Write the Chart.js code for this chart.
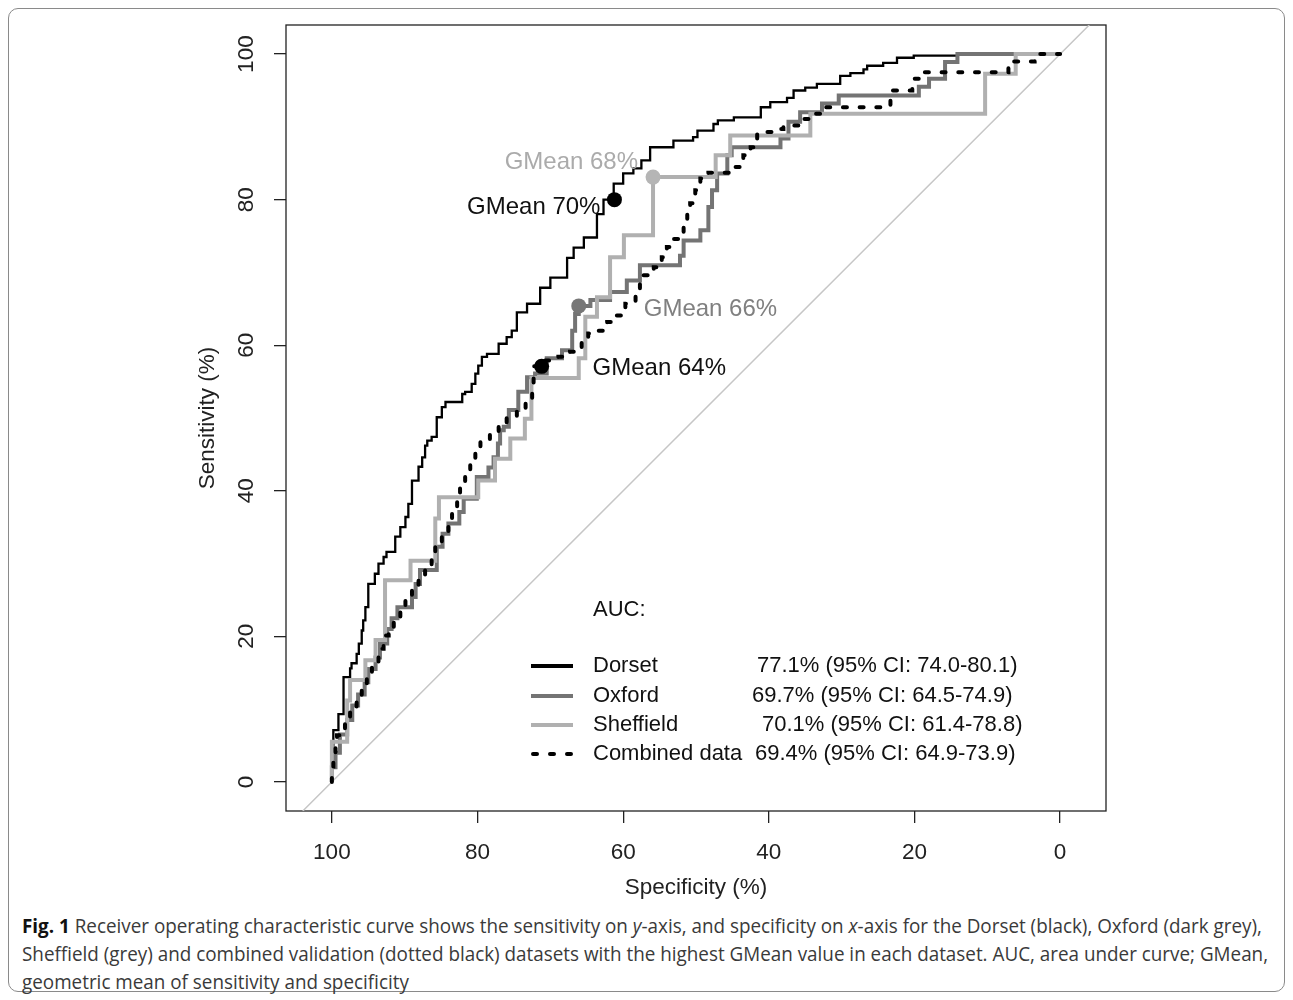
<!DOCTYPE html>
<html><head><meta charset="utf-8">
<script src="https://cdn.jsdelivr.net/npm/chart.js@4.4.1/dist/chart.umd.min.js"></script>
<style>
html,body{margin:0;padding:0;background:#fff;}
#wrap{position:relative;width:1293px;height:1000px;overflow:hidden;background:#fff;}
#frame{position:absolute;left:8px;top:8px;width:1275px;height:982px;border:1.5px solid #8a8a8a;border-radius:10px;}
#c{position:absolute;left:0;top:0;}
#cap{position:absolute;left:22px;top:912px;font-family:"Open Sans","DejaVu Sans Condensed",sans-serif;font-size:20px;line-height:28px;color:#3a3a3a;}
#cap .ln{display:block;height:28px;}
#cap .ln span{display:inline-block;white-space:nowrap;transform-origin:0 50%;}
#cap b{color:#111;font-weight:700;}
</style></head><body>
<div id="wrap"><div id="frame"></div><canvas id="c" width="1293" height="910"></canvas>
<div id="cap">
<div class="ln"><span id="l1"><b>Fig. 1</b> Receiver operating characteristic curve shows the sensitivity on <i>y</i>-axis, and specificity on <i>x</i>-axis for the Dorset (black), Oxford (dark grey),</span></div>
<div class="ln"><span>Sheffield (grey) and combined validation (dotted black) datasets with the highest GMean value in each dataset. AUC, area under curve; GMean,</span></div>
<div class="ln"><span>geometric mean of sensitivity and specificity</span></div>
</div></div>
<script>
// ---------- data ----------
const tickValues = [0, 20, 40, 60, 80, 100];

const dorsetSpec = [100,99.8,99.1,98.4,97.5,97.3,96.6,96.3,95.9,95.7,95.4,95.0,94.1,93.6,92.9,92.5,91.3,90.6,89.9,89.5,89.0,88.1,87.6,87.2,86.9,86.3,85.6,84.9,84.4,83.7,82.1,81.7,80.8,80.3,79.9,79.4,78.7,77.1,76.0,75.3,74.6,73.2,71.4,70.0,67.7,66.8,65.4,63.6,62.7,61.3,60.0,58.6,57.5,56.3,54.9,53.1,50.4,49.8,47.6,47.0,44.8,41.1,39.8,37.5,36.6,35.0,33.4,30.2,28.8,27.0,26.5,24.3,22.4,20.1,14.1,13.5,0];
const dorsetSens = [0,3.0,7.1,9.3,14.4,15.6,16.3,17.6,19.0,20.8,22.2,24.0,27.2,28.6,30.0,30.9,31.6,33.7,35.0,36.4,38.2,41.4,43.3,44.6,46.2,46.9,47.4,50.1,51.5,52.2,52.2,53.3,53.6,54.7,56.1,57.2,58.4,58.8,60.2,61.1,62.0,64.5,65.7,67.9,69.3,72.0,73.4,74.8,78.0,80.0,82.2,83.6,84.3,85.4,87.2,87.2,88.1,88.6,89.5,90.4,90.9,91.3,92.7,93.4,94.0,95.0,95.4,95.9,97.0,97.4,97.9,98.4,98.8,99.5,99.8,100,100];

const oxfordSpec = [100,99.5,98.9,97.9,97.2,96.4,95.5,95.0,94.0,93.4,92.4,91.8,91.0,89.0,88.5,87.9,85.6,84.8,84.0,82.5,81.9,80.1,78.5,77.8,77.2,76.9,76.4,75.7,74.4,73.2,72.1,70.5,68.4,67.0,66.6,66.1,64.5,61.8,59.5,57.7,52.2,51.7,49.4,48.3,47.8,47.1,45.7,45.1,38.4,37.3,35.7,32.7,30.4,19.4,18.0,15.8,14.1,0];
const oxfordSens = [0,2.0,4.0,6.5,8.5,10.5,12.0,13.7,15.5,17.1,19.0,21.0,22.5,24.0,25.4,27.2,29.1,32.3,34.1,35.5,37.1,38.9,41.9,43.2,44.6,46.5,48.3,48.8,51.1,53.6,55.6,56.1,58.2,59.3,62.0,64.3,65.4,66.2,67.3,68.9,71.0,72.3,74.4,75.8,79.0,81.3,83.6,86.1,87.2,88.4,90.7,92.0,93.2,94.3,95.5,96.6,98.9,100];

const sheffieldSpec = [100,97.9,97.5,95.4,94.0,92.7,89.2,85.8,85.3,79.9,77.6,75.5,73.5,72.6,66.1,65.2,63.6,61.8,59.9,55.9,47.3,45.3,34.3,10.3,6.1,0];
const sheffieldSens = [0,5.5,11.2,14.0,16.7,19.5,27.7,30.4,36.2,39.1,41.4,44.4,47.2,49.9,55.5,58.2,63.9,66.6,72.1,75.1,83.1,86.1,88.8,91.8,97.3,100];

const combinedSpec = [100,99.8,99.5,99.3,98.9,98.2,97.5,96.6,95.9,95.2,94.5,93.6,92.9,92.2,91.5,90.6,89.9,89.0,88.1,87.2,86.3,85.8,84.9,84.0,83.5,82.8,82.4,81.7,81.0,80.3,79.6,78.3,77.1,76.0,74.6,73.4,72.5,72.3,71.2,70.0,68.9,67.3,65.7,64.8,63.4,62.2,60.9,59.7,58.3,57.7,57.2,55.8,54.7,54.0,53.1,51.7,51.2,50.8,50.1,49.4,48.3,45.3,43.5,42.5,41.6,38.5,38.0,35.7,34.3,32.7,31.3,23.3,20.3,19.0,7.1,3.5,0];
const combinedSens = [0,2.1,3.2,4.8,6.4,7.3,8.9,10.3,11.7,13.3,14.9,16.3,18.3,20.1,21.3,22.4,23.8,25.4,27.0,28.2,29.5,31.4,32.7,34.3,36.2,37.8,39.2,40.8,42.4,44.0,45.6,46.8,47.9,49.0,50.0,51.1,52.5,54.3,57.1,57.9,58.2,58.4,59.1,60.7,61.6,62.0,63.2,64.1,65.7,67.1,68.5,69.6,70.7,72.1,73.5,74.6,76.5,78.5,79.5,81.3,82.9,83.7,84.5,86.1,87.2,89.3,89.7,90.2,91.1,91.8,92.7,92.7,95.0,96.6,97.5,99.0,100];

const diagSpec = [104, -4];
const diagSens = [-4, 104];

// best GMean points: Dorset, Oxford, Sheffield, Combined
const gmeanSpec = [61.2, 66.1, 55.9, 71.2];
const gmeanSens = [80.0, 65.4, 83.1, 57.1];
const gmeanLabels = ['GMean 70%', 'GMean 66%', 'GMean 68%', 'GMean 64%'];

const legendNames = ['Dorset', 'Oxford', 'Sheffield', 'Combined data'];
const legendAUC = ['77.1% (95% CI: 74.0-80.1)', '69.7% (95% CI: 64.5-74.9)', '70.1% (95% CI: 61.4-78.8)', '69.4% (95% CI: 64.9-73.9)'];

// ---------- caption fitting ----------
(function () {
  const l1 = document.getElementById('l1');
  const w = l1.getBoundingClientRect().width;
  const k = 1240 / w;
  document.querySelectorAll('#cap .ln span').forEach(s => { s.style.transform = 'scaleX(' + k + ')'; });
})();

// ---------- styling ----------
const FAM = '"Liberation Sans", Arial, Helvetica, sans-serif';
const C_DORSET = '#000000', C_OXFORD = '#747474', C_SHEF = '#b0b0b0', C_COMB = '#000000';
const pts = (xs, ys) => xs.map((v, i) => ({x: v, y: ys[i]}));
const DASH = [4, 12.7];

const deco = {
  id: 'deco',
  beforeDatasetsDraw(chart) {
    const {ctx, chartArea: a} = chart;
    ctx.save();
    ctx.strokeStyle = '#222'; ctx.lineWidth = 1.3;
    ctx.strokeRect(a.left, a.top, a.right - a.left, a.bottom - a.top);
    ctx.restore();
  },
  afterDraw(chart) {
    const {ctx, chartArea: a, scales: {x, y}} = chart;
    ctx.save();
    // rotated y tick labels
    ctx.font = '22.5px ' + FAM; ctx.fillStyle = '#222';
    ctx.textAlign = 'center'; ctx.textBaseline = 'middle';
    y.ticks.forEach(t => {
      const py = y.getPixelForValue(t.value);
      ctx.save(); ctx.translate(a.left - 39, py); ctx.rotate(-Math.PI / 2);
      ctx.fillText(String(t.value), 0, 0); ctx.restore();
    });
    // GMean labels (next to their points)
    const lab = [
      {dx: -14, dy: 8, align: 'right', col: '#111'},
      {dx: 65, dy: 3, align: 'left', col: '#808080'},
      {dx: -15, dy: -15, align: 'right', col: '#ababab'},
      {dx: 51, dy: 2, align: 'left', col: '#111'}
    ];
    ctx.font = '24px ' + FAM;
    gmeanLabels.forEach((t, i) => {
      const px = x.getPixelForValue(gmeanSpec[i]), py = y.getPixelForValue(gmeanSens[i]);
      ctx.fillStyle = lab[i].col; ctx.textAlign = lab[i].align;
      ctx.fillText(t, px + lab[i].dx, py + lab[i].dy);
    });
    // legend
    ctx.font = '22px ' + FAM; ctx.fillStyle = '#111'; ctx.textAlign = 'left';
    ctx.fillText('AUC:', 593, 610);
    const rowY = [666, 696, 725, 754];
    const aucX = [757, 752, 762, 755];
    const cols = [C_DORSET, C_OXFORD, C_SHEF, C_COMB];
    legendNames.forEach((n, i) => {
      ctx.strokeStyle = cols[i]; ctx.lineWidth = 4;
      if (i === 3) { ctx.setLineDash([4, 13]); ctx.lineCap = 'round'; ctx.lineDashOffset = 0; }
      else { ctx.setLineDash([]); ctx.lineCap = 'butt'; }
      ctx.beginPath();
      if (i === 3) { ctx.moveTo(533, rowY[i]); ctx.lineTo(573, rowY[i]); }
      else { ctx.moveTo(531, rowY[i]); ctx.lineTo(573, rowY[i]); }
      ctx.stroke();
      ctx.fillStyle = '#111';
      ctx.fillText(n, 593, rowY[i]);
      ctx.fillText(legendAUC[i], aucX[i], rowY[i]);
    });
    ctx.restore();
  }
};

const axisCommon = {
  type: 'linear',
  afterBuildTicks: s => { s.ticks = tickValues.map(v => ({value: v})); },
  border: {display: false},
  grid: {display: true, drawOnChartArea: false, drawTicks: true, tickLength: 12, color: '#222', lineWidth: 1.3}
};

new Chart(document.getElementById('c'), {
  type: 'scatter',
  data: {
    datasets: [
      {label: 'GMean', data: pts(gmeanSpec, gmeanSens), showLine: false, pointRadius: 7.5, pointHoverRadius: 7.5,
       pointBackgroundColor: [C_DORSET, '#777777', '#b5b5b5', C_COMB], pointBorderWidth: 0},
      {label: 'Combined data', data: pts(combinedSpec, combinedSens), showLine: true, stepped: 'after',
       borderColor: C_COMB, borderWidth: 4, borderDash: DASH, borderCapStyle: 'round', pointRadius: 0},
      {label: 'Sheffield', data: pts(sheffieldSpec, sheffieldSens), showLine: true, stepped: 'after',
       borderColor: C_SHEF, borderWidth: 4, pointRadius: 0},
      {label: 'Oxford', data: pts(oxfordSpec, oxfordSens), showLine: true, stepped: 'after',
       borderColor: C_OXFORD, borderWidth: 4, pointRadius: 0},
      {label: 'Dorset', data: pts(dorsetSpec, dorsetSens), showLine: true, stepped: 'after',
       borderColor: C_DORSET, borderWidth: 2.3, pointRadius: 0},
      {label: 'Chance', data: pts(diagSpec, diagSens), showLine: true,
       borderColor: '#c6c6c6', borderWidth: 1.5, pointRadius: 0}
    ]
  },
  options: {
    responsive: false, animation: false, devicePixelRatio: 1,
    layout: {padding: {left: 0, right: 187, top: 25, bottom: 0}},
    plugins: {legend: {display: false}, tooltip: {enabled: false}},
    scales: {
      x: Object.assign({}, axisCommon, {
        reverse: true, min: -6.3, max: 106.3,
        afterFit: s => { s.height = 99; },
        ticks: {font: {family: FAM, size: 22.5}, color: '#222', padding: 16, maxRotation: 0, autoSkip: false},
        title: {display: true, text: 'Specificity (%)', font: {family: FAM, size: 22.5}, color: '#222', padding: {top: 0, bottom: 8.5}}
      }),
      y: Object.assign({}, axisCommon, {
        min: -4, max: 104,
        afterFit: s => { s.width = 286; },
        ticks: {display: false},
        title: {display: true, text: 'Sensitivity (%)', font: {family: FAM, size: 22.5}, color: '#222', padding: {top: 194.5, bottom: 0}}
      })
    }
  },
  plugins: [deco]
});
</script>
</body></html>
